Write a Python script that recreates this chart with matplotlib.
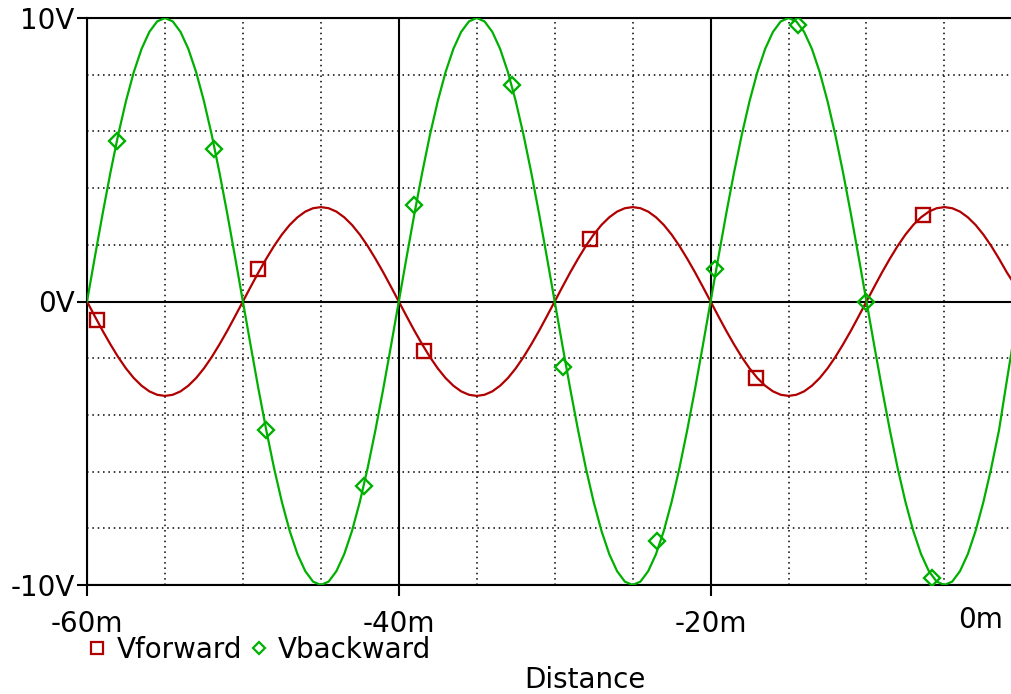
import numpy as np
import matplotlib as mpl

mpl.use('Agg')
import matplotlib.pyplot as plt
from matplotlib.lines import Line2D

# samples every 0.5 m from -60 m to -0.5 m
dist = np.arange(-60, 0, 0.5)

v_forward = [
    0, -0.52, -1.03, -1.51, -1.96, -2.36, -2.70, -2.97, -3.17, -3.29,
    -3.33, -3.29, -3.17, -2.97, -2.70, -2.36, -1.96, -1.51, -1.03, -0.52,
    0, 0.52, 1.03, 1.51, 1.96, 2.36, 2.70, 2.97, 3.17, 3.29,
    3.33, 3.29, 3.17, 2.97, 2.70, 2.36, 1.96, 1.51, 1.03, 0.52,
    0, -0.52, -1.03, -1.51, -1.96, -2.36, -2.70, -2.97, -3.17, -3.29,
    -3.33, -3.29, -3.17, -2.97, -2.70, -2.36, -1.96, -1.51, -1.03, -0.52,
    0, 0.52, 1.03, 1.51, 1.96, 2.36, 2.70, 2.97, 3.17, 3.29,
    3.33, 3.29, 3.17, 2.97, 2.70, 2.36, 1.96, 1.51, 1.03, 0.52,
    0, -0.52, -1.03, -1.51, -1.96, -2.36, -2.70, -2.97, -3.17, -3.29,
    -3.33, -3.29, -3.17, -2.97, -2.70, -2.36, -1.96, -1.51, -1.03, -0.52,
    0, 0.52, 1.03, 1.51, 1.96, 2.36, 2.70, 2.97, 3.17, 3.29,
    3.33, 3.29, 3.17, 2.97, 2.70, 2.36, 1.96, 1.51, 1.03, 0.60,
]

v_backward = [
    0, 1.56, 3.09, 4.54, 5.88, 7.07, 8.09, 8.91, 9.51, 9.88,
    10.0, 9.88, 9.51, 8.91, 8.09, 7.07, 5.88, 4.54, 3.09, 1.56,
    0, -1.56, -3.09, -4.54, -5.88, -7.07, -8.09, -8.91, -9.51, -9.88,
    -10.0, -9.88, -9.51, -8.91, -8.09, -7.07, -5.88, -4.54, -3.09, -1.56,
    0, 1.56, 3.09, 4.54, 5.88, 7.07, 8.09, 8.91, 9.51, 9.88,
    10.0, 9.88, 9.51, 8.91, 8.09, 7.07, 5.88, 4.54, 3.09, 1.56,
    0, -1.56, -3.09, -4.54, -5.88, -7.07, -8.09, -8.91, -9.51, -9.88,
    -10.0, -9.88, -9.51, -8.91, -8.09, -7.07, -5.88, -4.54, -3.09, -1.56,
    0, 1.56, 3.09, 4.54, 5.88, 7.07, 8.09, 8.91, 9.51, 9.88,
    10.0, 9.88, 9.51, 8.91, 8.09, 7.07, 5.88, 4.54, 3.09, 1.56,
    0, -1.56, -3.09, -4.54, -5.88, -7.07, -8.09, -8.91, -9.51, -9.88,
    -10.0, -9.88, -9.51, -8.91, -8.09, -7.07, -5.88, -4.54, -2.80, -1.10,
]

# marker positions (on the traces)
fwd_mark_x = [-59.36, -49.03, -38.40, -27.74, -17.10, -6.40]
fwd_mark_y = [-0.64, 1.15, -1.75, 2.20, -2.70, 3.05]
bwd_mark_x = [-58.08, -51.85, -48.52, -42.23, -39.03, -32.74,
              -29.47, -23.44, -19.72, -14.40, -10.03, -5.80]
bwd_mark_y = [5.66, 5.38, -4.55, -6.51, 3.40, 7.64,
              -2.31, -8.45, 1.15, 9.75, -0.02, -9.75]

x_ticks = [-60, -40, -20]
x_tick_labels = ['-60m', '-40m', '-20m']
y_ticks = [-10, 0, 10]
y_tick_labels = ['-10V', '0V', '10V']

RED = '#b00000'
GREEN = '#00b000'

plt.rcParams['font.family'] = ['DejaVu Sans']

W, H = 1011, 694
fig = plt.figure(figsize=(W / 100, H / 100), dpi=100)
ax = fig.add_axes([87 / W, (H - 585) / H, (W - 87) / W, (585 - 18) / H])

# traces
ax.plot(dist, v_forward, color=RED, lw=1.6, zorder=3)
ax.plot(dist, v_backward, color=GREEN, lw=1.6, zorder=3)
ax.plot(fwd_mark_x, fwd_mark_y, ls='none', marker='s', ms=9.5, mfc='none',
        mec=RED, mew=1.7, zorder=4)
ax.plot(bwd_mark_x, bwd_mark_y, ls='none', marker='D', ms=8, mfc='none',
        mec=GREEN, mew=1.7, zorder=4)

# axes
ax.set_xlim(-60, -0.73)
ax.set_ylim(-10, 10)
ax.set_xticks(x_ticks)
ax.set_xticklabels(x_tick_labels)
ax.set_yticks(y_ticks)
ax.set_yticklabels(y_tick_labels)
ax.set_xticks(np.arange(-55, 0, 5), minor=True)
ax.set_yticks(np.arange(-8, 10, 2), minor=True)
ax.tick_params(axis='both', which='major', labelsize=20, width=1.5,
               direction='out')
ax.tick_params(axis='x', which='major', length=8, pad=10)
ax.tick_params(axis='y', which='major', length=7, pad=2)
ax.tick_params(which='minor', length=0)

ax.grid(True, which='major', color='black', lw=1.5, ls='-', zorder=1)
ax.grid(True, which='minor', color='black', lw=1.1, ls=(0, (1, 2.5)),
        zorder=1)
ax.set_axisbelow(True)

for side in ['left', 'top', 'bottom']:
    ax.spines[side].set_linewidth(1.5)
ax.spines['right'].set_visible(False)

# last tick label sits inside the figure
fig.text(981 / W, 1 - 620 / H, '0m', fontsize=20, ha='center', va='center')

# legend and axis title
handles = [
    Line2D([], [], ls='none', marker='s', ms=9, mfc='none', mec=RED,
           mew=1.6, label='Vforward'),
    Line2D([], [], ls='none', marker='D', ms=6, mfc='none', mec=GREEN,
           mew=1.6, label='Vbackward'),
]
fig.legend(handles=handles, loc='center left',
           bbox_to_anchor=(86 / W, 1 - 650 / H), ncol=2, frameon=False,
           fontsize=20, handlelength=0.8, handletextpad=0.3,
           columnspacing=0.2, borderpad=0, borderaxespad=0)
fig.text(585 / W, 1 - 680 / H, 'Distance', fontsize=20, ha='center',
         va='center')

fig.savefig('out.png', dpi=100)
